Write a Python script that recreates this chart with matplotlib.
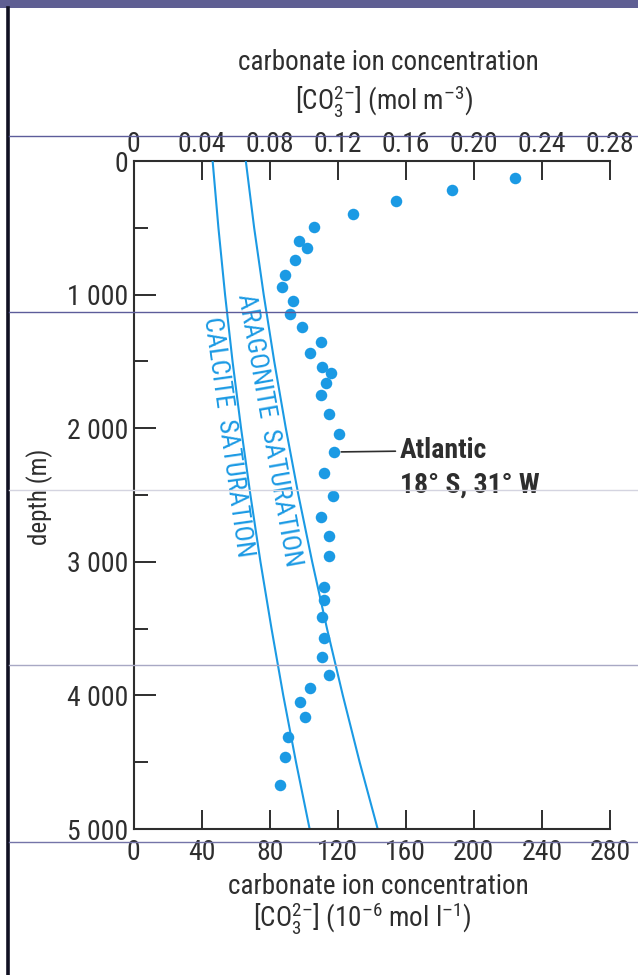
import matplotlib
matplotlib.use("Agg")
import matplotlib.pyplot as plt
from matplotlib import font_manager
from matplotlib.lines import Line2D
from matplotlib.patches import Rectangle

# --- data ---------------------------------------------------------------
# Atlantic profile, 18 S 31 W: carbonate ion (1e-6 mol/l) vs depth (m)
atl_co3 = [224, 187, 154, 129, 106, 97, 102, 95, 89, 87, 94, 92, 99, 110,
           104, 111, 116, 113, 110, 115, 121, 118, 112, 117, 110, 115, 115,
           112, 112, 111, 112, 111, 115, 104, 98, 101, 91, 89, 86]
atl_depth = [127, 217, 299, 397, 494, 599, 651, 741, 853, 943, 1048, 1145,
             1243, 1355, 1437, 1542, 1587, 1662, 1751, 1894, 2043, 2178,
             2335, 2507, 2665, 2807, 2957, 3189, 3286, 3413, 3570, 3713,
             3847, 3945, 4049, 4162, 4311, 4461, 4671]

# saturation curves
sat_depth = [0, 500, 1000, 1500, 2000, 2500, 3000, 3500, 4000, 4500, 5000]
calcite_sat = [46.5, 49.9, 53.8, 58.2, 63.2, 68.7, 74.6, 81.1, 88.0, 95.5, 103.5]
aragonite_sat = [66.0, 70.9, 76.5, 82.7, 89.5, 96.9, 105.0, 113.7, 123.0, 132.9, 143.5]

x_ticks = [0, 40, 80, 120, 160, 200, 240, 280]
top_ticks = [0, 0.04, 0.08, 0.12, 0.16, 0.20, 0.24, 0.28]
top_labels = ["0", "0.04", "0.08", "0.12", "0.16", "0.20", "0.24", "0.28"]
y_ticks = [0, 1000, 2000, 3000, 4000, 5000]
y_labels = ["0", "1 000", "2 000", "3 000", "4 000", "5 000"]
atl_label_idx = 21

BLUE = "#1b9ae4"
INK = "#2e2e2e"

# condensed grotesque, as close to Helvetica Condensed as is installed
entries = font_manager.fontManager.ttflist
names = {f.name for f in entries}
FONT = next((n for n in ["Roboto Condensed", "Archivo Narrow", "Encode Sans Condensed"]
             if n in names), "DejaVu Sans")
bold_names = {f.name for f in entries if f.weight in (700, "bold") and f.style == "normal"}
BOLD_FONT = next((n for n in ["Roboto Condensed", "Encode Sans Condensed",
                              "Fira Sans Condensed"] if n in bold_names), FONT)

plt.rcParams["font.family"] = [FONT, "DejaVu Sans"]
plt.rcParams["mathtext.fontset"] = "custom"
plt.rcParams["mathtext.rm"] = FONT
plt.rcParams["mathtext.it"] = FONT
plt.rcParams["mathtext.default"] = "rm"

W, H = 638, 975


def fx(px):
    return px / W


def fy(py):
    return 1 - py / H


fig = plt.figure(figsize=(W / 100, H / 100), dpi=100)
fig.patch.set_facecolor("white")

# slide decorations around the scanned figure
fig.add_artist(Rectangle((0, fy(8)), 1, 8 / H, transform=fig.transFigure,
                         color="#5f5f93", lw=0))
fig.add_artist(Line2D([fx(7.5), fx(7.5)], [0, fy(8)], transform=fig.transFigure,
                      color="#111122", lw=2.6))
for py, col in [(136, "#5c5c9a"), (312, "#5c5c9a"), (490, "#d4d4e0"),
                (665, "#a8a8c4"), (842, "#7474a8")]:
    fig.add_artist(Line2D([fx(9), 1], [fy(py), fy(py)], transform=fig.transFigure,
                          color=col, lw=1.0, zorder=10))

ax = fig.add_axes([fx(133.5), fy(829), fx(610) - fx(133.5), fy(161) - fy(829)])
ax.set_xlim(0, 280)
ax.set_ylim(5000, 0)

for side in ["top", "right"]:
    ax.spines[side].set_visible(False)
for side in ["left", "bottom"]:
    ax.spines[side].set_color(INK)
    ax.spines[side].set_linewidth(1.5)

ax.set_xticks(x_ticks)
ax.set_xticklabels([str(t) for t in x_ticks])
ax.set_yticks(y_ticks)
ax.set_yticklabels(y_labels)
ax.set_yticks([500, 1500, 2500, 3500, 4500], minor=True)
ax.tick_params(axis="x", direction="in", length=14, width=1.4, color=INK,
               labelsize=20, labelcolor=INK, pad=7)
ax.tick_params(axis="y", which="major", direction="in", length=16, width=1.4,
               color=INK, labelsize=20, labelcolor=INK, pad=4)
ax.tick_params(axis="y", which="minor", direction="in", length=10, width=1.4,
               color=INK)

top = ax.secondary_xaxis("top", functions=(lambda v: v / 1000, lambda v: v * 1000))
top.set_xticks(top_ticks)
top.set_xticklabels(top_labels)
top.spines["top"].set_color(INK)
top.spines["top"].set_linewidth(1.5)
top.tick_params(direction="in", length=14, width=1.4, color=INK,
                labelsize=20, labelcolor=INK, pad=2)

ax.plot(calcite_sat, sat_depth, color=BLUE, lw=1.5)
ax.plot(aragonite_sat, sat_depth, color=BLUE, lw=1.5)
ax.plot(atl_co3, atl_depth, "o", ms=8.3, color=BLUE, mec="none")

ax.text(79.6, 2013, "ARAGONITE  SATURATION", rotation=-80, color=BLUE,
        fontsize=19, ha="center", va="center", rotation_mode="anchor")
ax.text(55.5, 2066, "CALCITE  SATURATION", rotation=-82, color=BLUE,
        fontsize=19, ha="center", va="center", rotation_mode="anchor")

pt = (atl_co3[atl_label_idx], atl_depth[atl_label_idx])
ax.annotate("Atlantic", xy=pt, xytext=(47, 1), textcoords="offset points",
            fontsize=20, fontweight="bold", family=[BOLD_FONT, "DejaVu Sans"],
            color=INK, ha="left", va="center",
            arrowprops=dict(arrowstyle="-", color=INK, lw=1.2, shrinkA=1, shrinkB=5))
ax.annotate("18° S, 31° W", xy=pt, xytext=(47, -24), textcoords="offset points",
            fontsize=20, fontweight="bold", family=[BOLD_FONT, "DejaVu Sans"],
            color=INK, ha="left", va="center")

fig.text(fx(388), fy(62), "carbonate ion concentration", fontsize=19.5,
         color=INK, ha="center", va="center")
fig.text(fx(384), fy(101), "[CO$_3^{2\u2013}$] (mol m$^{\u20133}$)", fontsize=19.5,
         color=INK, ha="center", va="center")
fig.text(fx(378), fy(887), "carbonate ion concentration", fontsize=19.5,
         color=INK, ha="center", va="center")
fig.text(fx(362), fy(918), "[CO$_3^{2\u2013}$] (10$^{\u20136}$ mol l$^{\u20131}$)",
         fontsize=19.5, color=INK, ha="center", va="center")
fig.text(fx(40), fy(497), "depth (m)", fontsize=18, rotation=90,
         color=INK, ha="center", va="center")

fig.savefig("out.png", dpi=100)
